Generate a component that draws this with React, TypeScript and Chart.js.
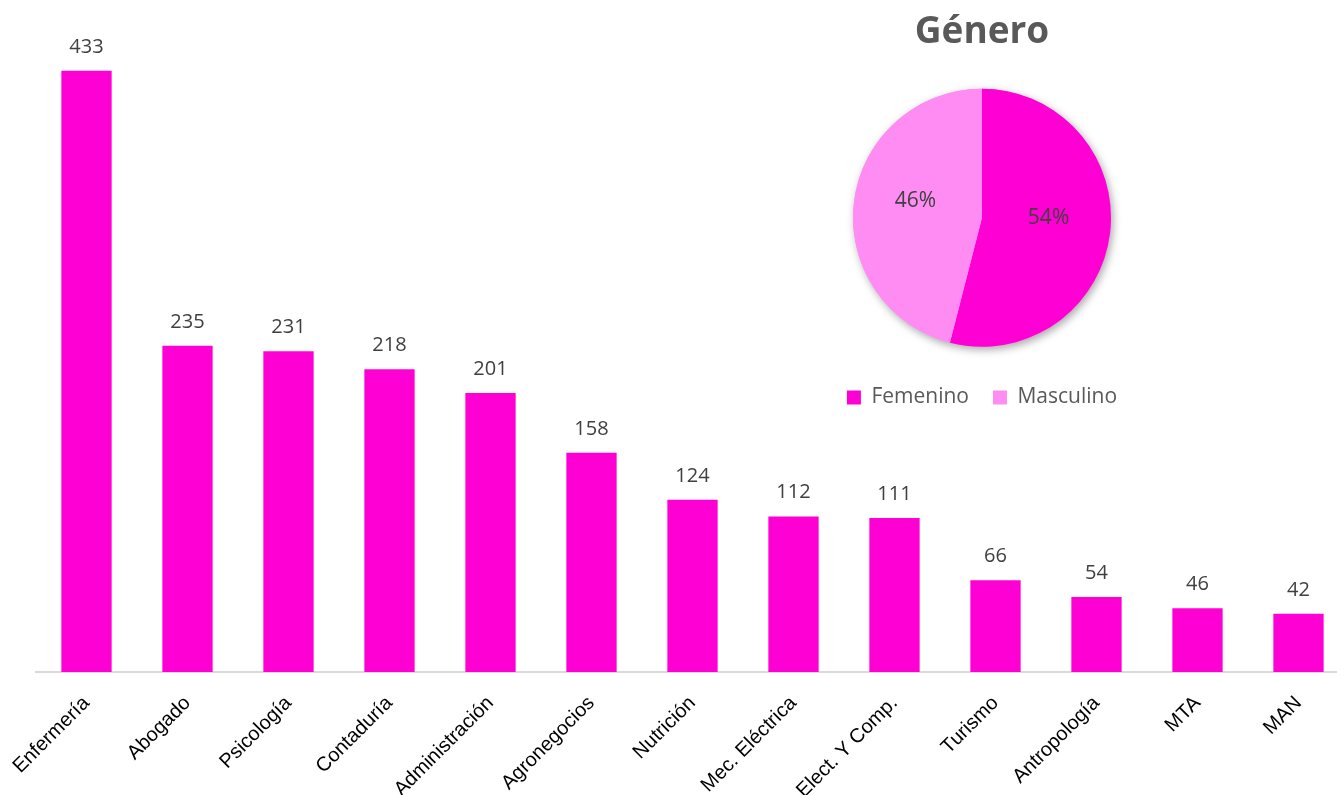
import React, { useEffect, useRef } from "react";
import { Chart, registerables } from "chart.js";

Chart.register(...registerables);

const categories = [
  "Enfermería",
  "Abogado",
  "Psicología",
  "Contaduría",
  "Administración",
  "Agronegocios",
  "Nutrición",
  "Mec. Eléctrica",
  "Elect. Y Comp.",
  "Turismo",
  "Antropología",
  "MTA",
  "MAN",
];
const counts = [433, 235, 231, 218, 201, 158, 124, 112, 111, 66, 54, 46, 42];

const genderLabels = ["Femenino", "Masculino"];
const genderShares = [54, 46];

const PINK = "#FF00D4";
const LIGHT_PINK = "#FF8CF2";

const barLabelsPlugin = {
  id: "barLabels",
  afterDatasetsDraw(chart: any) {
    const { ctx } = chart;
    const meta = chart.getDatasetMeta(0);
    ctx.save();
    ctx.font = "20px 'Open Sans'";
    ctx.fillStyle = "#404040";
    ctx.textAlign = "center";
    ctx.textBaseline = "alphabetic";
    meta.data.forEach((el: any, i: number) => {
      ctx.fillText(String(counts[i]), el.x, el.y - 18);
    });
    const xs = chart.scales.x;
    ctx.font = "20px 'Liberation Sans'";
    ctx.fillStyle = "#000000";
    ctx.textAlign = "right";
    ctx.textBaseline = "middle";
    categories.forEach((c, i) => {
      const x = xs.getPixelForValue(i);
      ctx.save();
      ctx.translate(x, chart.chartArea.bottom + 28);
      ctx.rotate(-Math.PI / 4);
      ctx.fillText(c, 0, 0);
      ctx.restore();
    });
    ctx.restore();
  },
};

const pieExtrasPlugin = {
  id: "pieExtras",
  beforeDatasetsDraw(chart: any) {
    const { ctx } = chart;
    const arc = chart.getDatasetMeta(0).data[0];
    if (!arc) return;
    ctx.save();
    ctx.shadowColor = "rgba(0,0,0,0.35)";
    ctx.shadowBlur = 8;
    ctx.shadowOffsetX = 2;
    ctx.shadowOffsetY = 3;
    ctx.beginPath();
    ctx.arc(arc.x, arc.y, arc.outerRadius, 0, Math.PI * 2);
    ctx.fillStyle = LIGHT_PINK;
    ctx.fill();
    ctx.restore();
  },
  afterDatasetsDraw(chart: any) {
    const { ctx } = chart;
    const meta = chart.getDatasetMeta(0);
    ctx.save();
    ctx.font = "21px 'Open Sans'";
    ctx.fillStyle = "#404040";
    ctx.textAlign = "center";
    ctx.textBaseline = "middle";
    meta.data.forEach((arc: any, i: number) => {
      const mid = (arc.startAngle + arc.endAngle) / 2;
      const r = arc.outerRadius * 0.52;
      const x = arc.x + Math.cos(mid) * r;
      const y = arc.y + Math.sin(mid) * r - 8;
      ctx.fillText(genderShares[i] + "%", x, y);
    });
    ctx.restore();
  },
};

export default function App() {
  const barRef = useRef<HTMLCanvasElement>(null);
  const pieRef = useRef<HTMLCanvasElement>(null);

  useEffect(() => {
    const bar = new Chart(barRef.current as HTMLCanvasElement, {
      type: "bar",
      data: {
        labels: categories,
        datasets: [
          {
            data: counts,
            backgroundColor: PINK,
            borderWidth: 0,
            categoryPercentage: 1,
            barPercentage: 0.498,
          },
        ],
      },
      options: {
        animation: false,
        responsive: false,
        devicePixelRatio: 1,
        layout: { padding: { left: 36, right: 0, top: 0, bottom: 0 } },
        plugins: { legend: { display: false }, tooltip: { enabled: false } },
        scales: {
          x: {
            ticks: { display: false },
            grid: { display: false },
            border: { display: true, color: "#D9D9D9", width: 2 },
            afterFit: (scale: any) => {
              scale.height = 123;
            },
          },
          y: { display: false, min: 0, max: 484 },
        },
      },
      plugins: [barLabelsPlugin],
    } as any);

    const pie = new Chart(pieRef.current as HTMLCanvasElement, {
      type: "pie",
      data: {
        labels: genderLabels,
        datasets: [
          {
            data: genderShares,
            backgroundColor: [PINK, LIGHT_PINK],
            borderWidth: 0,
            radius: 129,
          },
        ],
      },
      options: {
        animation: false,
        responsive: false,
        devicePixelRatio: 1,
        layout: { padding: { bottom: 2 } },
        plugins: {
          title: {
            display: true,
            text: "Género",
            color: "#595959",
            font: { family: "'Open Sans'", size: 37, weight: "bold" },
            padding: { top: 10, bottom: 18 },
          },
          legend: {
            position: "bottom",
            labels: {
              boxWidth: 14,
              boxHeight: 14,
              color: "#595959",
              font: { family: "'Open Sans'", size: 21 },
              padding: 24,
            },
          },
          tooltip: { enabled: false },
        },
      },
      plugins: [pieExtrasPlugin],
    } as any);

    return () => {
      bar.destroy();
      pie.destroy();
    };
  }, []);

  return (
    <div
      style={{
        position: "absolute",
        left: 0,
        top: 0,
        width: 1337,
        height: 795,
        overflow: "hidden",
        background: "#ffffff",
      }}
    >
      <canvas
        ref={barRef}
        width={1349}
        height={795}
        style={{ position: "absolute", left: 0, top: 0, width: 1349, height: 795 }}
      />
      <canvas
        ref={pieRef}
        width={340}
        height={420}
        style={{ position: "absolute", left: 812, top: 0, width: 340, height: 420 }}
      />
    </div>
  );
}
